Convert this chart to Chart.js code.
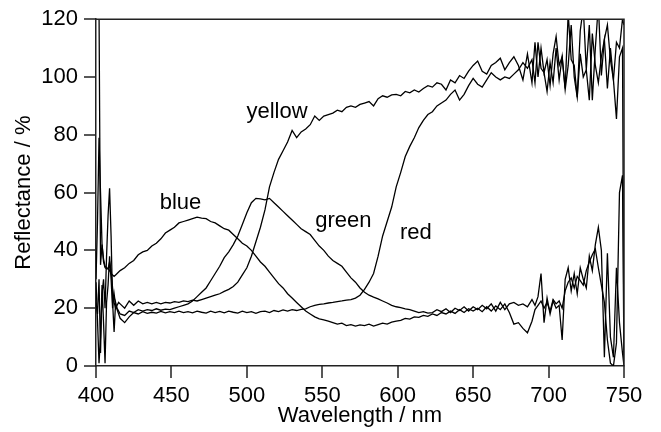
<!DOCTYPE html>
<html>
<head>
<meta charset="utf-8">
<script src="https://cdn.jsdelivr.net/npm/chart.js@4/dist/chart.umd.min.js"></script>
<style>
  html, body { margin: 0; padding: 0; background: #fff; }
  #wrap { width: 661px; height: 432px; }
</style>
</head>
<body>
<div id="wrap"><canvas id="chart" width="661" height="432"></canvas></div>
<script>
// sample wavelengths (nm)
const wavelengths = [
  400,401,402,403,404,405,406,407,408,409,410,411,412,413,414,415,416,
  419,422,425,428,431,434,437,440,443,446,
  449,452,455,458,461,464,467,470,473,476,
  479,482,485,488,491,494,497,500,503,506,
  509,512,515,518,521,524,527,530,533,536,
  539,542,545,548,551,554,557,560,563,566,
  569,572,575,578,581,584,587,590,593,596,
  599,602,605,608,611,614,617,620,623,626,
  629,632,635,638,641,644,647,650,653,656,
  659,662,665,668,671,674,677,680,683,686,
  689,
  691,693,695,697,699,701,703,705,707,709,
  711,713,715,717,719,721,723,725,727,729,
  731,733,735,737,739,741,743,745,747,749,
  750
];

// reflectance (%) per sample
const blue = [
  30,50,79,60,42,37,34.5,34,33.8,33,32,31.5,31,31.5,32,32.5,33,
  34,35.5,36.5,38.5,39.5,40,41.5,42.5,44,46,
  47,48,49.5,50,50.5,51,51.5,51.2,51,50,
  49.5,48.5,47.5,47,45.5,44,42.5,41.5,40,38,
  36,34.5,32.5,30.5,28.5,27,25,23.5,22,20.5,
  19,18,17,16.3,16,15.5,15,14.5,14.8,14,
  14.3,13.8,14.2,14,14.5,13.8,14.3,14.8,14.5,15.2,
  15.5,15.8,16.5,16.2,17,16.8,17.5,17.2,18,17.5,
  18.5,18,19,18.2,19.5,18.5,19.8,19,20,18.8,
  20.5,19,20.8,19.5,21.5,18.5,14.5,15,13,11.5,
  15.5,
  19.5,21,22.5,20,22,19,23,21.5,22.5,20,
  26,29,30.5,27,31,29.5,28,33,36,38.5,
  40.5,34,28,22,9,1,0,8,60,66,
  1
];

const green = [
  29,15.7,1,10,25,30,20,38,52,61.5,45,22,11.8,22,20,19,18,
  17.5,19,18.5,19.5,19,19.5,19.2,19.8,19.3,19.7,
  19.5,20,20.5,21,21.5,22.5,24,25.5,27,29.5,
  32,34.5,37.5,39.5,42,45,49,53,56.5,58,
  57.8,57.5,58,56.5,55,53.5,52,50.5,49,47.5,
  46.5,45.5,43.5,41.5,40,38,36.5,35.5,34.5,32.5,
  30.5,29,27,25.5,24.5,23.8,23.2,22.5,21.8,21,
  20.5,20.2,19.8,19.5,19,18.5,18.8,18.3,18.5,19.5,
  18.8,19.8,18.5,20,19.2,20.5,19,20.5,19.5,21,
  19.8,21.5,19,22,19.5,21.5,22,21,21.5,20.5,
  23,
  21,24,32,15,23.5,18,22.5,20,21,9,
  30,34,26,32,25,34,30,27,38,33,
  42,48,40,3,39,10,3,34,15,4.5,
  0
];

const yellow = [
  125,135,124,35,42,36,34,33.6,33.6,36,33,27,22,20,21,22,21.5,
  20,22.5,21,22.5,21.5,22,21.5,22,21.5,22,
  21.8,22.3,22,22.5,22.3,22.8,22.5,23,23.5,24,
  24.5,25,25.8,26.5,27.5,29,31.5,34,38,43,
  48,54,62,67,71.5,74.5,77.5,81.5,79,81,
  82,83.5,86.5,85,86.5,87,87.5,88.5,88,89.5,
  90,89.5,90.5,91,91.5,90,92.5,93.5,93,93.8,
  94,93.5,95,94.5,95.5,94.8,96,97,96.5,98,
  97.5,95.5,99,98,100.5,99.5,102,104,105.5,102,
  101,104,105,106.5,102.5,105,107,104,99,108,
  98,
  112,100,110,101.5,106,97,108,114,104,107,
  96,122,106,104,93,116,124,102.5,118,92,
  110,125,100.5,113,118,106,99,112,110,120,
  118
];

const red = [
  22,18,30,4.5,28,15,1,22,28,38,30,20,25,21,19.5,18,16.5,
  15,17,18.5,18,18.8,18.2,18.6,18.3,18.9,18.4,
  18.8,18.5,19,18.5,18.8,18.4,19,18.6,18.3,19,
  18.5,18.9,18.4,19,18.6,18.3,19,18.5,18.8,18.2,
  18.8,19,18.5,19.2,18.8,19.4,19,19.5,19.2,19.6,
  19.8,20.5,21,21.3,21.5,21.8,22,22.3,22.5,22.8,
  23,23.5,24.5,26.5,29,32,38,45,50,55,
  62,67,72.5,76,79,82.5,85,87,88,90,
  91,92,94,95.5,92,94,97,99.5,97.5,96.5,
  99,101.5,100,99,100,99.5,101,102.5,105,103,
  106,
  98,112,103,101.5,95,105,98,110,99,107,
  95.6,104,118,100,93,108,100,102.5,92,115,
  104,98,107,113,96,110,99,85.5,107,110,
  1
];

const xTicks = [400, 450, 500, 550, 600, 650, 700, 750];
const yTicks = [0, 20, 40, 60, 80, 100, 120];

// curve names, anchored in data units (nm, %)
const curveLabels = [
  { text: 'blue',   x: 456, y: 54.2 },
  { text: 'yellow', x: 520, y: 85.7 },
  { text: 'green',  x: 564, y: 48 },
  { text: 'red',    x: 612, y: 43.9 }
];

const fontFamily = '"Liberation Sans", Arial, Helvetica, sans-serif';
const axisColor = '#222';
const tickLen = 12;

const makeSet = (name, vals) => ({
  label: name,
  data: wavelengths.map((w, i) => ({ x: w, y: vals[i] })),
  borderColor: '#000',
  borderWidth: 1.3,
  pointRadius: 0,
  tension: 0,
  fill: false,
  clip: 0
});

// box top/right edges, outward tick marks and the in-plot curve names
const frameAndLabels = {
  id: 'frameAndLabels',
  afterDraw(chart) {
    const { ctx, chartArea: a, scales } = chart;
    ctx.save();
    ctx.strokeStyle = axisColor;
    ctx.lineWidth = 1.5;
    ctx.beginPath();
    ctx.moveTo(a.left, a.top);
    ctx.lineTo(a.right, a.top);
    ctx.lineTo(a.right, a.bottom);
    xTicks.forEach(v => {
      const px = Math.round(scales.x.getPixelForValue(v));
      ctx.moveTo(px, a.bottom);
      ctx.lineTo(px, a.bottom + tickLen);
    });
    yTicks.forEach(v => {
      const py = Math.round(scales.y.getPixelForValue(v));
      ctx.moveTo(a.left, py);
      ctx.lineTo(a.left - tickLen, py);
    });
    ctx.stroke();

    ctx.fillStyle = '#000';
    ctx.font = '22px ' + fontFamily;
    ctx.textAlign = 'center';
    ctx.textBaseline = 'alphabetic';
    curveLabels.forEach(l => {
      ctx.fillText(l.text, scales.x.getPixelForValue(l.x), scales.y.getPixelForValue(l.y));
    });
    ctx.restore();
  }
};

// keep the tick length in the layout, marks themselves come from the plugin
const makeGrid = () => ({
  display: true,
  drawOnChartArea: false,
  drawTicks: true,
  tickLength: tickLen,
  color: axisColor,
  lineWidth: 1.5,
  tickColor: 'rgba(0,0,0,0)'
});
const makeBorder = () => ({ display: true, color: axisColor, width: 1.5 });
const tickFont = { size: 22, family: fontFamily };

new Chart(document.getElementById('chart'), {
  type: 'line',
  data: {
    datasets: [
      makeSet('blue', blue),
      makeSet('green', green),
      makeSet('yellow', yellow),
      makeSet('red', red)
    ]
  },
  options: {
    responsive: false,
    animation: false,
    layout: { padding: { top: 16, right: 37, left: 0, bottom: 0 } },
    plugins: { legend: { display: false }, tooltip: { enabled: false } },
    scales: {
      x: {
        type: 'linear',
        min: 400,
        max: 750,
        afterBuildTicks: s => { s.ticks = xTicks.map(v => ({ value: v })); },
        afterFit: s => { s.height = 66; },
        grid: makeGrid(),
        border: makeBorder(),
        ticks: { color: '#000', font: tickFont, padding: 5, maxRotation: 0, autoSkip: false },
        title: { display: true, text: 'Wavelength / nm', color: '#000', font: tickFont, padding: { top: 0, bottom: 3 } }
      },
      y: {
        type: 'linear',
        min: 0,
        max: 120,
        afterBuildTicks: s => { s.ticks = yTicks.map(v => ({ value: v })); },
        afterFit: s => { s.width = 96; },
        grid: makeGrid(),
        border: makeBorder(),
        ticks: { color: '#000', font: tickFont, padding: 6, autoSkip: false },
        title: { display: true, text: 'Reflectance / %', color: '#000', font: tickFont, padding: { top: 11, bottom: 0 } }
      }
    }
  },
  plugins: [frameAndLabels]
});
</script>
</body>
</html>
